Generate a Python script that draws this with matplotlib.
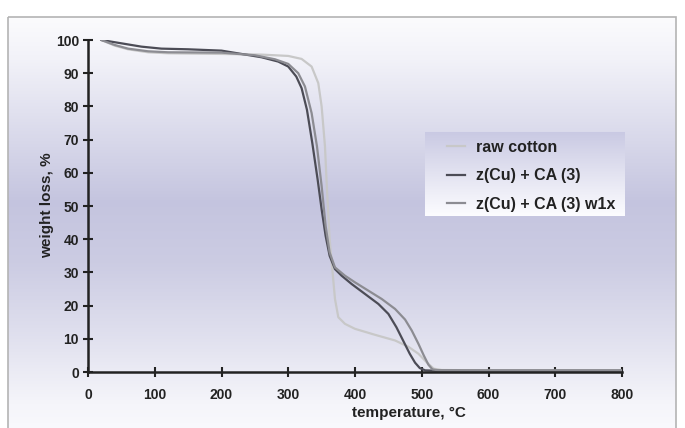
import numpy as np
import matplotlib
matplotlib.use('Agg')
import matplotlib.pyplot as plt
from matplotlib.colors import LinearSegmentedColormap
from matplotlib.patches import Rectangle

plt.rcParams['font.family'] = ['Liberation Sans', 'DejaVu Sans']
plt.rcParams['font.weight'] = 'bold'

# TGA curves (temperature in C, weight in %)
t_raw = [20, 40, 60, 90, 120, 200, 260, 300, 320, 335, 345, 350, 355, 358, 362, 366, 370,
         375, 385, 400, 430, 460, 480, 495, 508, 518, 530, 600, 800]
w_raw = [100, 98.3, 97.2, 96.3, 96.0, 95.8, 95.6, 95.2, 94.3, 92, 87, 80, 68, 55, 40, 31, 22,
         16.5, 14.5, 13, 11.2, 9.5, 7.6, 5.5, 2.8, 1.0, 0.6, 0.5, 0.5]

t_cu = [20, 50, 80, 110, 150, 200, 230, 260, 285, 300, 312, 320, 328, 336, 344, 350, 356, 362,
        370, 380, 395, 415, 435, 450, 462, 472, 482, 490, 497, 505, 520, 600, 800]
w_cu = [100, 99, 98, 97.4, 97.2, 96.8, 95.8, 94.8, 93.5, 92, 89, 85.5, 79, 69, 58, 49, 41, 35,
        31, 29, 26.5, 23.5, 20.5, 17.5, 13.5, 9.5, 5.5, 2.8, 1.2, 0.5, 0.4, 0.4, 0.4]

t_w1x = [20, 40, 60, 90, 120, 200, 250, 280, 300, 315, 325, 335, 343, 350, 356, 362, 370, 385,
         400, 420, 440, 460, 475, 485, 495, 503, 510, 516, 525, 600, 800]
w_w1x = [100, 98.5, 97.4, 96.6, 96.3, 96.2, 95.4, 94.2, 92.8, 90, 86, 78, 68, 56, 44, 36, 31.5, 29,
         27, 24.5, 22, 19, 15.8, 12.5, 8.5, 5, 2.2, 0.8, 0.5, 0.4, 0.4]

labels = ['raw cotton', 'z(Cu) + CA (3)', 'z(Cu) + CA (3) w1x']
colors = ['#c8c8c8', '#4c4c56', '#8c8c92']
x_ticks = list(range(0, 801, 100))
y_ticks = list(range(0, 101, 10))

W, H = 685, 428
fig = plt.figure(figsize=(W / 100, H / 100), dpi=100)
fig.patch.set_facecolor('white')

# background panel with vertical lavender gradient, in pixel coords
bg = fig.add_axes([0, 0, 1, 1])
bg.set_xlim(0, W)
bg.set_ylim(H, 0)
bg.axis('off')
bg.set_zorder(0)
stops = [(0.0, (0.985, 0.985, 0.992)), (0.10, (0.95, 0.95, 0.975)),
         (0.45, (0.77, 0.77, 0.875)), (0.60, (0.80, 0.80, 0.89)),
         (0.78, (0.88, 0.88, 0.935)), (0.94, (0.96, 0.96, 0.98)),
         (1.0, (0.975, 0.975, 0.99))]
bg_cmap = LinearSegmentedColormap.from_list('bg', stops)
grad = np.linspace(0, 1, 256).reshape(-1, 1)
bg.imshow(grad, cmap=bg_cmap, aspect='auto', extent=(8, 676, 428, 17), interpolation='bilinear')
bg.add_patch(Rectangle((8, 17), 668, 430, fill=False, edgecolor='#b4b4b4', linewidth=1.2))

ax = fig.add_axes([88 / W, 1 - 372 / H, 534 / W, 332 / H])
ax.set_zorder(1)
ax.patch.set_alpha(0)

for t, w, lab, c in zip([t_raw, t_cu, t_w1x], [w_raw, w_cu, w_w1x], labels, colors):
    ax.plot(t, w, color=c, linewidth=1.6, label=lab)

ax.set_xlim(0, 800)
ax.set_ylim(0, 100)
ax.set_xticks(x_ticks)
ax.set_yticks(y_ticks)
for s in ['top', 'right']:
    ax.spines[s].set_visible(False)
for s in ['left', 'bottom']:
    ax.spines[s].set_linewidth(1.8)
    ax.spines[s].set_color('#222222')
ax.tick_params(axis='both', direction='inout', length=7, width=1.5, color='#222222',
               labelsize=10, labelcolor='#222222')
ax.tick_params(axis='y', pad=3)
ax.tick_params(axis='x', pad=8)
for lbl in ax.get_xticklabels() + ax.get_yticklabels():
    lbl.set_fontweight('bold')

ax.set_xlabel('temperature, °C', fontsize=11, fontweight='bold', color='#222222')
ax.set_ylabel('weight loss, %', fontsize=11, fontweight='bold', color='#222222')
ax.xaxis.set_label_coords(0.601, -0.102)
ax.yaxis.set_label_coords(-0.064, 0.503)

# legend box with its own gradient
lg_cmap = LinearSegmentedColormap.from_list('lg', [(0.79, 0.79, 0.89), (0.99, 0.99, 1.0)])
ax.imshow(grad, cmap=lg_cmap, aspect='auto', extent=(0.631, 1.004, 0.47, 0.723),
          transform=ax.transAxes, clip_on=False, zorder=4, interpolation='bilinear')
ax.set_xlim(0, 800)
ax.set_ylim(0, 100)
leg = ax.legend(loc='upper left', bbox_to_anchor=(0.672, 0.70), frameon=False,
                fontsize=11.5, handlelength=1.15, handletextpad=0.7, labelspacing=0.85,
                borderpad=0, borderaxespad=0)
for txt in leg.get_texts():
    txt.set_fontweight('bold')
    txt.set_color('#222222')
leg.set_zorder(5)

fig.savefig('out.png', dpi=100)
